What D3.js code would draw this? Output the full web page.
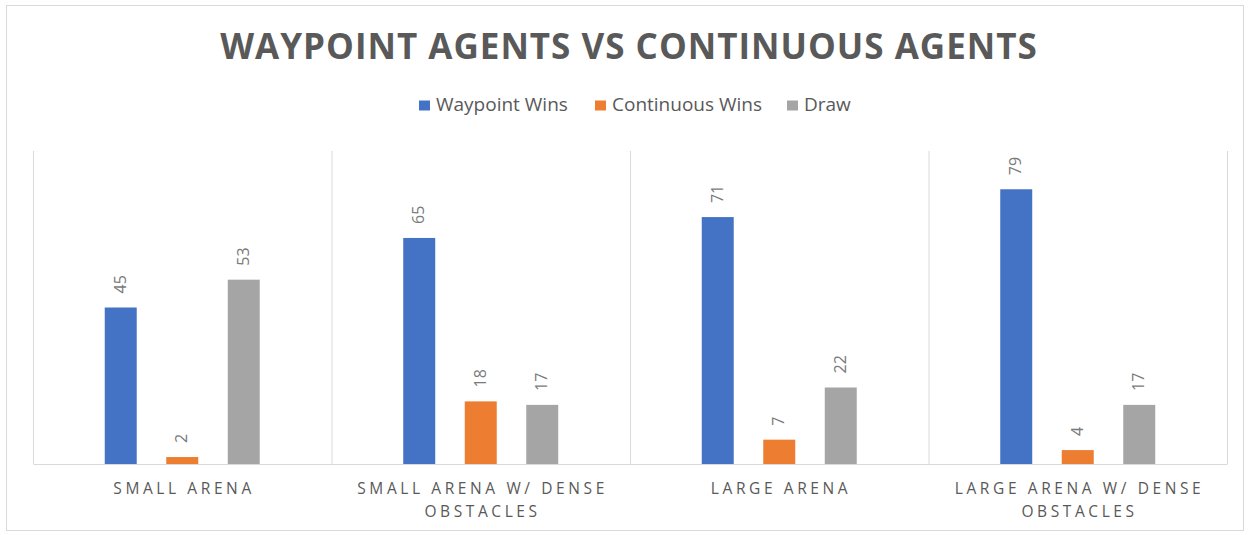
<!DOCTYPE html>
<html>
<head>
<meta charset="utf-8">
<script src="https://cdn.jsdelivr.net/npm/d3@7"></script>
<style>
  body { margin: 0; background: #fff; }
  text { font-family: "Open Sans", "Noto Sans", sans-serif; fill: #595959; }
</style>
</head>
<body>
<svg id="chart" width="1249" height="535"></svg>
<script>
var categories = ['Small Arena', 'Small Arena w/ Dense Obstacles', 'Large Arena', 'Large Arena w/ Dense Obstacles'];
var seriesNames = ['Waypoint Wins', 'Continuous Wins', 'Draw'];
var waypointWins = [45, 65, 71, 79];
var continuousWins = [2, 18, 7, 4];
var draws = [53, 17, 22, 17];
var colors = ['#4472C4', '#ED7D31', '#A5A5A5'];

var svg = d3.select('#chart');
var margin = {top: 151, right: 22, bottom: 71, left: 33};
var width = 1249 - margin.left - margin.right;
var height = 535 - margin.top - margin.bottom;
var groupSpan = 155;

// outer frame
svg.append('rect')
    .attr('x', 6.5).attr('y', 5.5)
    .attr('width', 1237).attr('height', 525)
    .attr('fill', 'none')
    .attr('stroke', '#d9d9d9');

svg.append('text')
    .attr('x', 629).attr('y', 59)
    .attr('text-anchor', 'middle')
    .style('font-size', '35px')
    .style('font-weight', 'bold')
    .style('letter-spacing', '1px')
    .text('WAYPOINT AGENTS VS CONTINUOUS AGENTS');

var g = svg.append('g').attr('transform', 'translate(' + margin.left + ',' + margin.top + ')');

var x0 = d3.scaleBand()
    .domain(categories)
    .range([0, width]);

var x1 = d3.scaleBand()
    .domain(seriesNames)
    .range([0, groupSpan])
    .paddingInner(0.48);

var y = d3.scaleLinear()
    .domain([0, 90])
    .range([height, 0]);

// vertical separators between categories
var seps = categories.map((c) => x0(c)).concat([width]);
g.selectAll('.sep')
    .data(seps)
    .enter().append('line')
    .attr('x1', (d) => d + 0.5).attr('x2', (d) => d + 0.5)
    .attr('y1', 0).attr('y2', height)
    .attr('stroke', '#d9d9d9');

var data = categories.map((c, i) => {
    return {cat: c, values: [waypointWins[i], continuousWins[i], draws[i]]};
});

var groups = g.selectAll('.group')
    .data(data)
    .enter().append('g')
    .attr('transform', (d) => 'translate(' + (x0(d.cat) + (x0.bandwidth() - groupSpan) / 2) + ',0)');

groups.selectAll('rect')
    .data((d) => d.values.map((v, j) => ({name: seriesNames[j], value: v, color: colors[j]})))
    .enter().append('rect')
    .attr('x', (d) => x1(d.name))
    .attr('y', (d) => y(d.value))
    .attr('width', x1.bandwidth())
    .attr('height', (d) => height - y(d.value))
    .attr('fill', (d) => d.color);

groups.selectAll('.lbl')
    .data((d) => d.values.map((v, j) => ({name: seriesNames[j], value: v})))
    .enter().append('text')
    .attr('transform', (d) => 'translate(' + (x1(d.name) + x1.bandwidth() / 2 + 5) + ',' + (y(d.value) - 14) + ') rotate(-90)')
    .style('font-size', '16px')
    .style('fill', '#7a7a7a')
    .text((d) => d.value);

// baseline axis
var xAxis = g.append('g')
    .attr('transform', 'translate(0,' + height + ')')
    .call(d3.axisBottom(x0).tickSize(0).tickFormat(''));
xAxis.select('.domain').attr('stroke', '#d9d9d9');

// category labels, wrapped
categories.forEach((c) => {
    var words = c.toUpperCase().split(' ');
    var lines = [];
    var cur = '';
    words.forEach((w) => {
        var test = cur ? cur + ' ' + w : w;
        if (test.length > 20 && cur) { lines.push(cur); cur = w; } else { cur = test; }
    });
    lines.push(cur);
    var t = g.append('text')
        .attr('x', x0(c) + x0.bandwidth() / 2)
        .attr('y', height + 30)
        .attr('text-anchor', 'middle')
        .style('font-size', '15.5px')
        .style('letter-spacing', '3.6px');
    lines.forEach((l, k) => {
        t.append('tspan')
            .attr('x', x0(c) + x0.bandwidth() / 2 + 1.8)
            .attr('dy', k === 0 ? 0 : 23.4)
            .text(l);
    });
});

// legend
var legend = svg.append('g').attr('transform', 'translate(419,111)');
var lx = [0, 176, 368];
seriesNames.forEach((s, i) => {
    var it = legend.append('g').attr('transform', 'translate(' + lx[i] + ',0)');
    it.append('rect').attr('width', 11).attr('height', 10).attr('y', -10.5).attr('fill', colors[i]);
    it.append('text').attr('x', 17).attr('y', 0).style('font-size', '19px').text(s);
});
</script>
</body>
</html>
